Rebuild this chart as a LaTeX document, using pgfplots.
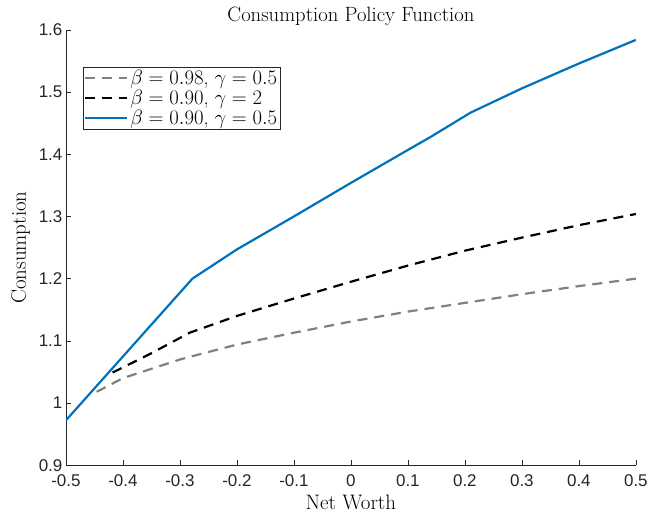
\documentclass[border=0pt]{standalone}
\usepackage{fontspec}
\usepackage{pgfplots}
\pgfplotsset{compat=1.18}
\newfontfamily\tickfont{Liberation Sans}
\definecolor{mblue}{rgb}{0,0.447,0.741}
\definecolor{axgray}{rgb}{0.15,0.15,0.15}
\begin{document}
\begin{tikzpicture}
\begin{axis}[
  scale only axis, width=571pt, height=436pt,
  xmin=-0.5, xmax=0.5, ymin=0.9, ymax=1.6,
  axis x line*=bottom, axis y line*=left,
  axis line style={axgray, line width=0.6pt},
  tick align=inside, major tick length=5pt,
  tick style={axgray, line width=0.6pt},
  xtick={-0.5,-0.4,-0.3,-0.2,-0.1,0,0.1,0.2,0.3,0.4,0.5},
  xticklabels={-0.5,-0.4,-0.3,-0.2,-0.1,0,0.1,0.2,0.3,0.4,0.5},
  ytick={0.9,1,1.1,1.2,1.3,1.4,1.5,1.6},
  yticklabels={0.9,1,1.1,1.2,1.3,1.4,1.5,1.6},
  ticklabel style={font=\tickfont\fontsize{17}{19}\selectfont, text=axgray},
  xticklabel style={yshift=-6pt},
  title={Consumption Policy Function},
  title style={font=\fontsize{20.7}{22}\selectfont, yshift=-5pt},
  xlabel={Net Worth}, ylabel={Consumption},
  label style={font=\fontsize{21}{23}\selectfont},
  xlabel style={yshift=-1pt},
  ylabel style={yshift=2pt},
  legend style={at={(0.03,0.915)}, anchor=north west, draw=axgray, line width=0.6pt,
    font=\fontsize{20}{22}\selectfont, inner sep=1pt, row sep=0pt},
  legend cell align=left,
  legend image code/.code={\draw[#1] (0pt,0pt) -- (42pt,0pt);},
]
\addplot[gray, line width=2.2pt, dash pattern=on 10pt off 7pt] coordinates {
(-0.446,1.018) (-0.4,1.040) (-0.3,1.070) (-0.2,1.094) (-0.1,1.113) (0,1.131)
(0.1,1.147) (0.2,1.161) (0.3,1.175) (0.4,1.188) (0.5,1.200)};
\addlegendentry{$\beta=0.98$, $\gamma=0.5$}
\addplot[black, line width=2.2pt, dash pattern=on 10pt off 7pt] coordinates {
(-0.418,1.049) (-0.35,1.080) (-0.283,1.113) (-0.2,1.140) (-0.1,1.168) (0,1.195)
(0.1,1.221) (0.2,1.245) (0.3,1.266) (0.4,1.286) (0.5,1.304)};
\addlegendentry{$\beta=0.90$, $\gamma=2$}
\addplot[mblue, line width=2.2pt] coordinates {
(-0.5,0.972) (-0.278,1.200) (-0.2,1.247) (-0.1,1.300) (0,1.354) (0.1,1.407)
(0.14,1.428) (0.21,1.467) (0.3,1.506) (0.4,1.546) (0.5,1.584)};
\addlegendentry{$\beta=0.90$, $\gamma=0.5$}
\end{axis}
\path ([shift={(-66pt,-50pt)}]current axis.south west) rectangle ([shift={(14pt,30pt)}]current axis.north east);
\end{tikzpicture}
\end{document}
